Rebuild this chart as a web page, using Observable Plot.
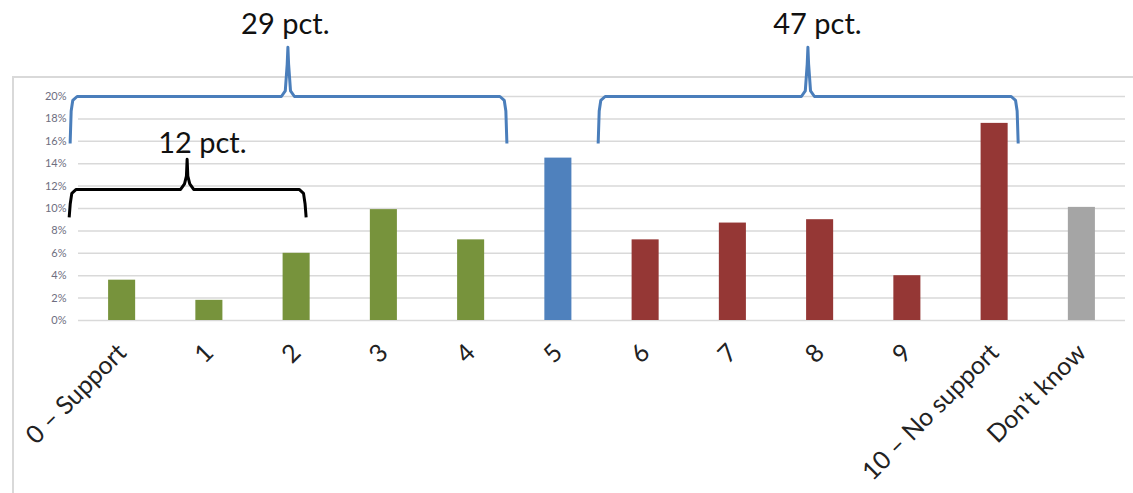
<!DOCTYPE html>
<html>
<head>
<meta charset="utf-8">
<script src="https://cdn.jsdelivr.net/npm/d3@7"></script>
<script src="https://cdn.jsdelivr.net/npm/@observablehq/plot@0.6"></script>
<style>
  html, body { margin: 0; padding: 0; background: #fff; }
  #wrap { position: relative; width: 1133px; height: 493px; overflow: hidden; }
  #border { position: absolute; left: 12px; top: 76px; width: 1140px; height: 440px;
            border-left: 2px solid #d9d9d9; border-top: 2px solid #d9d9d9; box-sizing: border-box; }
  #chart { position: absolute; left: 0; top: 0; }
</style>
</head>
<body>
<div id="wrap"><div id="border"></div><div id="chart"></div></div>
<script>
// ---- data ----
const categories = ["0 – Support", "1", "2", "3", "4", "5", "6", "7", "8", "9", "10 – No support", "Don't know"];
const values = [3.6, 1.8, 6.0, 9.9, 7.2, 14.5, 7.2, 8.7, 9.0, 4.0, 17.6, 10.1];
const groups = ["support", "support", "support", "support", "support", "neutral",
                "against", "against", "against", "against", "against", "dk"];
const yTicks = [0, 2, 4, 6, 8, 10, 12, 14, 16, 18, 20];

// annotation braces (in data units: x = category index, y = percent)
const braceLabels = ["12 pct.", "29 pct.", "47 pct."];
const braceFrom = [-0.607, -0.596, 5.456];
const braceTo = [2.109, 4.41, 10.27];
const braceTip = [0.745, 1.90, 7.86];
const braceLow = [9.2, 15.8, 15.8];
const braceHigh = [11.7, 20.0, 20.0];
const bracePeak = [14.4, 24.4, 24.4];
const braceKind = ["black", "blue", "blue"];
const braceTextX = [0.92, 1.87, 7.97];
const braceTextY = [15.8, 26.4, 26.4];

// ---- build tables ----
const rows = categories.map((c, i) => ({i, category: c, value: values[i], group: groups[i]}));

const bracePts = [];
braceLabels.forEach((lab, k) => {
  const a = braceFrom[k], b = braceTo[k], t = braceTip[k];
  const lo = braceLow[k], hi = braceHigh[k], pk = bracePeak[k];
  const pts = [
    [a, lo], [a + 0.012, hi - 1.3], [a + 0.03, hi - 0.35], [a + 0.08, hi],
    [t - 0.075, hi], [t - 0.03, hi + 0.5], [t - 0.008, pk - 1.5], [t, pk],
    [t + 0.008, pk - 1.5], [t + 0.03, hi + 0.5], [t + 0.075, hi],
    [b - 0.08, hi], [b - 0.03, hi - 0.35], [b - 0.012, hi - 1.3], [b, lo]
  ];
  pts.forEach(([x, y]) => bracePts.push({id: k, x, y, kind: braceKind[k]}));
});
const braceTexts = braceLabels.map((lab, k) => ({label: lab, x: braceTextX[k], y: braceTextY[k]}));

const font = "Lato, 'Open Sans', sans-serif";

const chart = Plot.plot({
  width: 1133,
  height: 493,
  marginLeft: 78,
  marginRight: 8,
  marginTop: 96,
  marginBottom: 173,
  style: {fontFamily: font, background: "transparent"},
  x: {domain: [-0.5, 11.5]},
  y: {domain: [0, 20]},
  color: {domain: ["support", "neutral", "against", "dk"],
          range: ["#77933C", "#4F81BD", "#953735", "#A5A5A5"]},
  marks: [
    Plot.ruleY(yTicks, {stroke: "#d9d9d9", strokeWidth: 1.5}),
    Plot.rect(rows, {x1: d => d.i - 0.155, x2: d => d.i + 0.155, y1: 0, y2: "value", fill: "group"}),
    Plot.axisY({ticks: yTicks, tickFormat: d => d + "%", tickSize: 0, tickPadding: 12,
                fontSize: 11, fill: "#6e6e80", label: null}),
    Plot.axisX({ticks: d3.range(categories.length), tickFormat: i => categories[i],
                tickRotate: -45, tickSize: 0, tickPadding: 28, fontSize: 25,
                fill: "#222", label: null}),
    Plot.line(bracePts, {x: "x", y: "y", z: "id",
                         stroke: d => d.kind === "blue" ? "#4a7ebb" : "#000",
                         strokeWidth: 3, strokeLinejoin: "round", strokeLinecap: "butt", curve: "linear"}),
    Plot.text(braceTexts, {x: "x", y: "y", text: "label", fontSize: 29, fill: "#111",
                           textAnchor: "middle", lineAnchor: "middle"})
  ]
});
document.getElementById("chart").appendChild(chart);
</script>
</body>
</html>
